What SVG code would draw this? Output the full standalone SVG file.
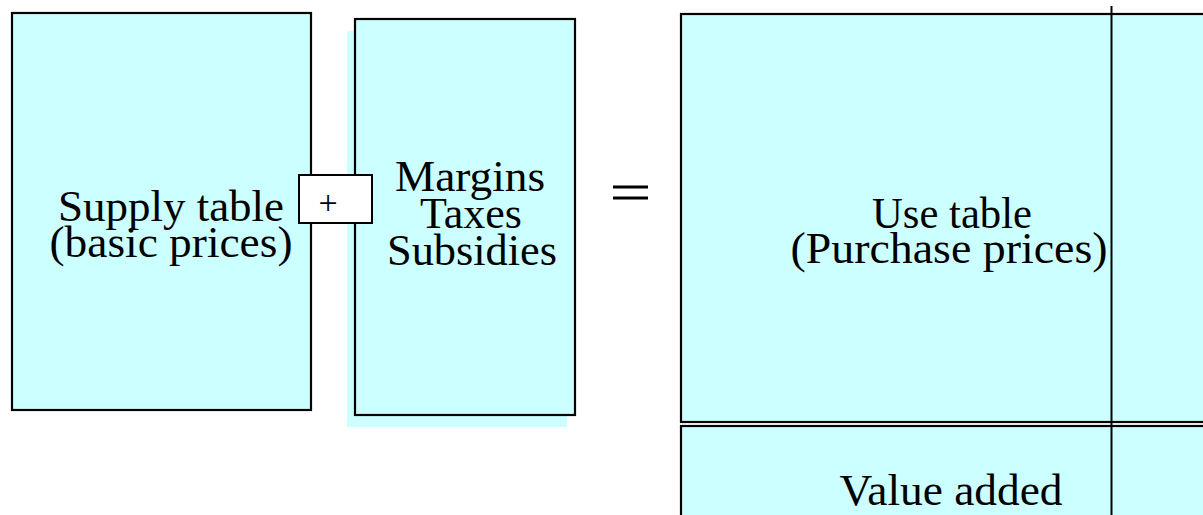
<svg xmlns="http://www.w3.org/2000/svg" width="1203" height="515" viewBox="0 0 1203 515">
<style>
.box{fill:#ccffff;stroke:#000;stroke-width:2.2}
.shadow{fill:#ccffff;stroke:none}
.t{font-family:"Liberation Serif","Times New Roman",serif;font-size:44px;fill:#000;text-anchor:middle}
.ln{stroke:#000;stroke-width:3;fill:none}
</style>
<rect width="1203" height="515" fill="#fff"/>
<g id="supply">
<rect class="box" x="12" y="13" width="299" height="397"/>
<text class="t" x="171" y="221" textLength="226" lengthAdjust="spacingAndGlyphs">Supply table</text>
<text class="t" x="171" y="257" textLength="243" lengthAdjust="spacingAndGlyphs">(basic prices)</text>
</g>
<g id="margins">
<rect class="shadow" x="347" y="31" width="220" height="396"/>
<rect class="box" x="355" y="19" width="220" height="396"/>
<text class="t" x="470" y="191" textLength="150" lengthAdjust="spacingAndGlyphs">Margins</text>
<text class="t" x="471" y="228" textLength="102" lengthAdjust="spacingAndGlyphs">Taxes</text>
<text class="t" x="472" y="265" textLength="170" lengthAdjust="spacingAndGlyphs">Subsidies</text>
</g>
<g id="plus">
<rect x="299" y="175" width="73" height="48" fill="#fff" stroke="#000" stroke-width="2"/>
<text x="328" y="214" font-family="'Liberation Serif', serif" font-size="34px" text-anchor="middle" fill="#000">+</text>
</g>
<g id="equals">
<line class="ln" x1="613" y1="187" x2="648" y2="187"/>
<line class="ln" x1="613" y1="198" x2="648" y2="198"/>
</g>
<g id="use">
<rect class="box" x="681" y="14" width="530" height="408"/>
<text class="t" x="952" y="228" textLength="160" lengthAdjust="spacingAndGlyphs">Use table</text>
<text class="t" x="949" y="263" textLength="317" lengthAdjust="spacingAndGlyphs">(Purchase   prices)</text>
</g>
<g id="valueadded">
<rect class="box" x="681" y="426" width="530" height="100"/>
<text class="t" x="951" y="505" textLength="223" lengthAdjust="spacingAndGlyphs">Value added</text>
</g>
<g id="connectors">
<line x1="1111.5" y1="6" x2="1111.5" y2="515" stroke="#000" stroke-width="2"/>
</g>
</svg>
